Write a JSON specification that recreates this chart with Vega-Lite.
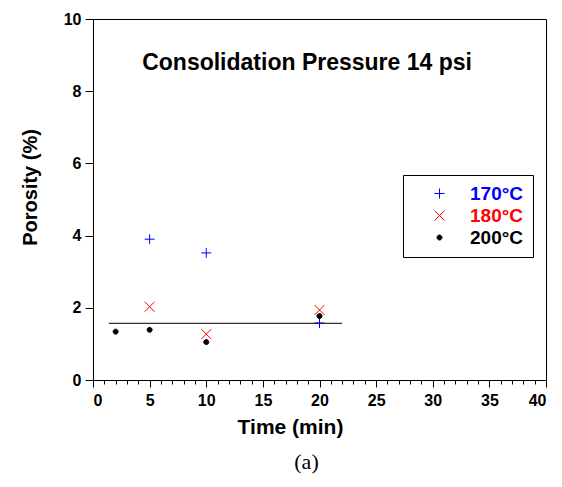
{
  "$schema": "https://vega.github.io/schema/vega-lite/v6.json",
  "width": 453,
  "height": 361,
  "autosize": {"type": "none"},
  "padding": {"left": 93, "top": 19, "right": 16, "bottom": 107},
  "background": "white",
  "title": {"text": "(a)", "orient": "bottom", "font": "Liberation Serif", "fontSize": 22, "fontWeight": "normal", "color": "black", "dx": -13, "offset": 15},
  "config": {
    "view": {"stroke": "black", "strokeWidth": 1},
    "axis": {"grid": false, "labelFont": "Liberation Sans", "labelFontWeight": "bold", "labelFontSize": 16, "labelColor": "black", "tickColor": "black", "domainColor": "black", "titleFont": "Liberation Sans", "titleFontWeight": "bold", "titleFontSize": 21, "titleColor": "black"}
  },
  "datasets": {
    "pts": [
      {"time": 5, "porosity": 3.9, "temp": "170°C"},
      {"time": 10, "porosity": 3.52, "temp": "170°C"},
      {"time": 20, "porosity": 1.58, "temp": "170°C"},
      {"time": 5, "porosity": 2.03, "temp": "180°C"},
      {"time": 10, "porosity": 1.27, "temp": "180°C"},
      {"time": 20, "porosity": 1.94, "temp": "180°C"},
      {"time": 2, "porosity": 1.34, "temp": "200°C"},
      {"time": 5, "porosity": 1.39, "temp": "200°C"},
      {"time": 10, "porosity": 1.05, "temp": "200°C"},
      {"time": 20, "porosity": 1.77, "temp": "200°C"}
    ],
    "fit": [
      {"time": 1.4, "porosity": 1.57},
      {"time": 22, "porosity": 1.57}
    ],
    "label": [
      {"time": 18.9, "porosity": 8.79, "text": "Consolidation Pressure 14 psi"}
    ]
  },
  "resolve": {"axis": {"x": "independent", "y": "independent"}},
  "layer": [
    {
      "data": {"name": "fit"},
      "mark": {"type": "line", "color": "#333333", "strokeWidth": 1.2},
      "encoding": {
        "x": {"field": "time", "type": "quantitative", "scale": {"domain": [0, 40], "nice": false, "zero": false},
              "axis": {"orient": "bottom", "values": [0,1,2,3,4,5,6,7,8,9,10,11,12,13,14,15,16,17,18,19,20,21,22,23,24,25,26,27,28,29,30,31,32,33,34,35,36,37,38,39,40], "labels": false, "domain": false, "tickSize": 4, "title": null}},
        "y": {"field": "porosity", "type": "quantitative", "scale": {"domain": [0, 10], "nice": false},
              "axis": {"orient": "left", "values": [0,2,4,6,8,10], "tickSize": 8, "labelPadding": 4, "title": "Porosity (%)", "titleFontSize": 20, "titleX": -63, "titleY": 168, "titleBaseline": "middle", "titleAnchor": "middle"}}
      }
    },
    {
      "data": {"name": "pts"},
      "mark": {"type": "point", "filled": false, "strokeWidth": 1, "size": 100, "opacity": 1},
      "encoding": {
        "x": {"field": "time", "type": "quantitative",
              "axis": {"orient": "bottom", "values": [0,5,10,15,20,25,30,35,40], "tickSize": 7, "labelPadding": 5, "title": "Time (min)", "titleX": 197, "titleY": 47, "titleBaseline": "middle", "titleAnchor": "middle"}},
        "y": {"field": "porosity", "type": "quantitative", "axis": null},
        "shape": {"field": "temp", "type": "nominal", "scale": {"domain": ["170°C", "180°C", "200°C"], "range": ["M-1,0H1M0,-1V1", "M-1,-1L1,1M1,-1L-1,1", "M-0.5,0A0.5,0.5 0 1,1 0.5,0A0.5,0.5 0 1,1 -0.5,0Z"]},
                  "legend": {"title": null, "orient": "none", "legendX": 310, "legendY": 156, "fillColor": "white", "strokeColor": "black", "padding": 9, "symbolOffset": 18, "labelOffset": 21, "rowPadding": 2, "symbolSize": 100, "symbolStrokeWidth": 1, "labelFont": "Liberation Sans", "labelFontSize": 19, "labelFontWeight": "bold",
                             "labelColor": {"expr": "datum.value === '170°C' ? '#0000ff' : datum.value === '180°C' ? '#ff0000' : '#000000'"}}},
        "color": {"field": "temp", "type": "nominal", "scale": {"domain": ["170°C", "180°C", "200°C"], "range": ["#0000ff", "#ff0000", "#000000"]}},
        "fill": {"field": "temp", "type": "nominal", "scale": {"domain": ["170°C", "180°C", "200°C"], "range": ["#0000ff", "#ff0000", "#000000"]}}
      }
    },
    {
      "data": {"name": "label"},
      "mark": {"type": "text", "font": "Liberation Sans", "fontWeight": "bold", "fontSize": 23, "align": "center", "baseline": "middle", "color": "black"},
      "encoding": {
        "x": {"field": "time", "type": "quantitative", "axis": null},
        "y": {"field": "porosity", "type": "quantitative", "axis": null},
        "text": {"field": "text"}
      }
    }
  ]
}
